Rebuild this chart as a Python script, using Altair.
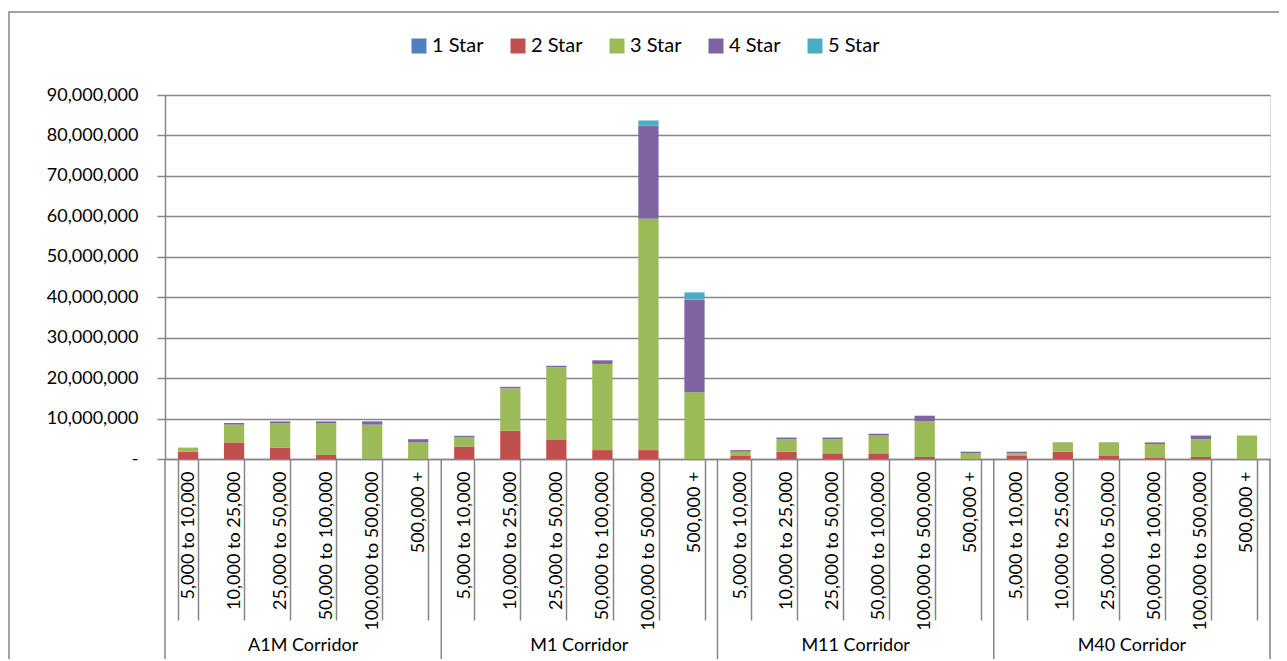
import altair as alt
import pandas as pd

corridors = ["A1M Corridor", "M1 Corridor", "M11 Corridor", "M40 Corridor"]
bands = ["5,000 to 10,000", "10,000 to 25,000", "25,000 to 50,000",
         "50,000 to 100,000", "100,000 to 500,000", "500,000 +"]
stars = ["1 Star", "2 Star", "3 Star", "4 Star", "5 Star"]
colors = ["#4F81BD", "#C0504D", "#9BBB59", "#8064A2", "#4BACC6"]

# values in millions, one list of 6 bands per corridor
star1 = {
    "A1M Corridor": [0, 0, 0, 0, 0, 0],
    "M1 Corridor": [0, 0, 0, 0, 0, 0],
    "M11 Corridor": [0, 0, 0, 0, 0, 0],
    "M40 Corridor": [0, 0, 0, 0, 0, 0],
}
star2 = {
    "A1M Corridor": [1.8, 4.1, 2.75, 1.0, 0.1, 0],
    "M1 Corridor": [3.1, 7.0, 4.85, 2.2, 2.2, 0],
    "M11 Corridor": [0.9, 1.8, 1.4, 1.4, 0.5, 0],
    "M40 Corridor": [0.9, 1.8, 0.9, 0.4, 0.5, 0],
}
star3 = {
    "A1M Corridor": [0.95, 4.4, 6.15, 7.9, 8.4, 4.1],
    "M1 Corridor": [2.25, 10.45, 17.8, 21.3, 57.2, 16.5],
    "M11 Corridor": [0.9, 3.1, 3.5, 4.4, 8.8, 1.4],
    "M40 Corridor": [0.5, 2.3, 3.2, 3.3, 4.4, 5.8],
}
star4 = {
    "A1M Corridor": [0.05, 0.4, 0.4, 0.4, 0.8, 0.8],
    "M1 Corridor": [0.35, 0.4, 0.4, 0.9, 23.0, 22.9],
    "M11 Corridor": [0.4, 0.4, 0.4, 0.45, 1.4, 0.4],
    "M40 Corridor": [0.4, 0.05, 0.05, 0.4, 0.9, 0],
}
star5 = {
    "A1M Corridor": [0, 0, 0, 0, 0, 0],
    "M1 Corridor": [0.05, 0, 0, 0, 1.3, 1.8],
    "M11 Corridor": [0, 0, 0, 0, 0, 0],
    "M40 Corridor": [0, 0, 0, 0, 0, 0],
}
y_ticks = [0, 10e6, 20e6, 30e6, 40e6, 50e6, 60e6, 70e6, 80e6, 90e6]

series = dict(zip(stars, [star1, star2, star3, star4, star5]))
keys = [f"{c}|{b}" for c in corridors for b in bands]

rows = []
for si, s in enumerate(stars):
    for c in corridors:
        for bi, b in enumerate(bands):
            rows.append({"key": f"{c}|{b}", "star": s, "order": si,
                         "value": series[s][c][bi] * 1e6})
df = pd.DataFrame(rows)

FONT = "Lato"
GRAY = "#868686"
W, H = 1105, 364
P_IN = 0.56
HALF_GAP = W / len(keys) * P_IN / 2  # px from bar edge to cell edge

xscale = alt.Scale(domain=keys, paddingInner=P_IN, paddingOuter=P_IN / 2)
xaxis = alt.Axis(labelExpr="split(datum.value, '|')[1]",
                 labelAngle=270, labelAlign="right", labelBaseline="middle",
                 labelPadding=-149, tickBand="extent", tickSize=161,
                 tickColor=GRAY, tickWidth=1.5, domainColor=GRAY,
                 domainWidth=1.5, labelFont=FONT, labelFontSize=18,
                 labelColor="#000000", labelOverlap=False, labelBound=False,
                 grid=False, title=None)

bars = alt.Chart(df).mark_bar().encode(
    x=alt.X("key:N", scale=xscale, sort=keys, title=None, axis=xaxis),
    y=alt.Y("value:Q", stack="zero", title=None,
            scale=alt.Scale(domain=[0, 90e6], nice=False),
            axis=alt.Axis(values=y_ticks,
                          labelExpr="datum.value == 0 ? '-\u00a0\u00a0\u00a0\u00a0' : format(datum.value, ',')",
                          labelFont=FONT, labelFontSize=18, labelColor="#000000",
                          labelPadding=19, tickSize=8, tickColor=GRAY, tickWidth=1.5,
                          domainColor=GRAY, domainWidth=1.5,
                          gridColor=GRAY, gridWidth=1.5)),
    color=alt.Color("star:N", sort=stars,
                    scale=alt.Scale(domain=stars, range=colors),
                    legend=alt.Legend(title=None, orient="none", legendX=244, legendY=-59,
                                      direction="horizontal", symbolType="square",
                                      symbolSize=225, symbolStrokeWidth=0,
                                      labelFont=FONT, labelFontSize=20,
                                      labelColor="#000000", columnPadding=24,
                                      labelOffset=3)),
    order=alt.Order("order:Q", sort="ascending"),
)

sep_df = pd.DataFrame({"key": [f"{c}|{bands[0]}" for c in corridors]})
end_df = pd.DataFrame({"key": [keys[-1]]})
lab_df = pd.DataFrame({"key": [f"{c}|{bands[3]}" for c in corridors], "label": corridors})

seps = alt.Chart(sep_df).mark_rule(color=GRAY, strokeWidth=1.5, xOffset=-HALF_GAP).encode(
    x=alt.X("key:N", scale=xscale, sort=keys, bandPosition=0, axis=xaxis),
    y=alt.value(H), y2=alt.value(H + 220))
end_sep = alt.Chart(end_df).mark_rule(color=GRAY, strokeWidth=1.5, xOffset=HALF_GAP).encode(
    x=alt.X("key:N", scale=xscale, sort=keys, bandPosition=1, axis=xaxis),
    y=alt.value(H), y2=alt.value(H + 220))
group_labels = alt.Chart(lab_df).mark_text(font=FONT, fontSize=18, color="#000000",
                                           baseline="middle", align="center",
                                           xOffset=-HALF_GAP).encode(
    x=alt.X("key:N", scale=xscale, sort=keys, bandPosition=0, axis=xaxis),
    y=alt.value(H + 187), text="label:N")

frame = alt.Chart(pd.DataFrame({"a": [0]})).mark_rect(
    fill="transparent", stroke=GRAY, strokeWidth=1.5).encode(
    x=alt.value(-156), x2=alt.value(W + 300), y=alt.value(-83), y2=alt.value(H + 300))

chart = alt.layer(frame, bars, seps, end_sep, group_labels).properties(
    width=W, height=H,
    autosize=alt.AutoSizeParams(type="none"),
    padding={"left": 157, "top": 87, "right": 9, "bottom": 200},
).configure_view(stroke=None).configure(background="white")

chart.save("out.html", embed_options={"renderer": "svg", "actions": False})
